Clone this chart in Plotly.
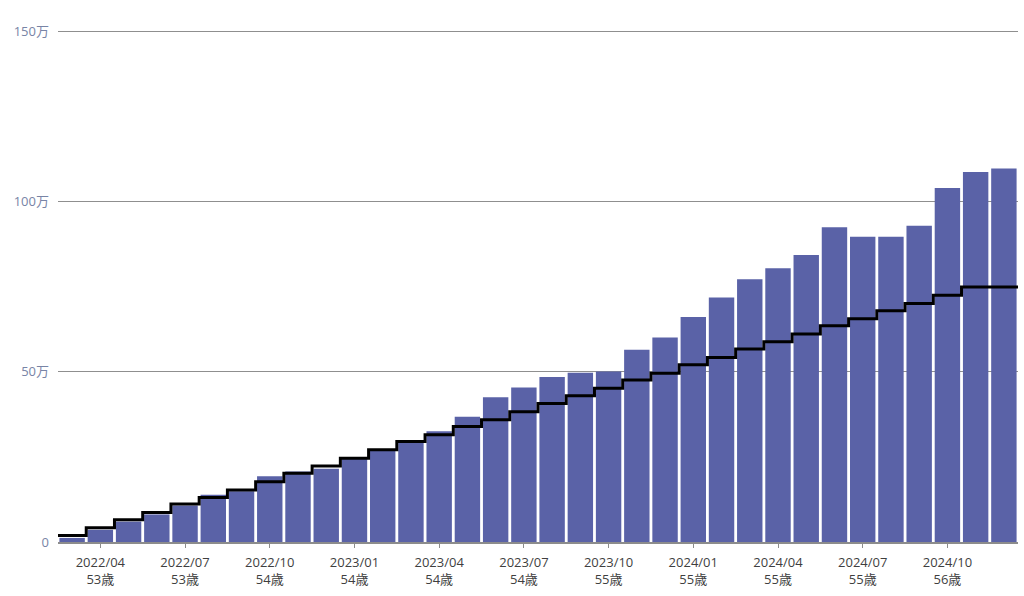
import plotly.graph_objects as go

# Monthly values (万円), 2022/03 .. 2024/12
months = ["2022/03", "2022/04", "2022/05", "2022/06", "2022/07", "2022/08", "2022/09",
          "2022/10", "2022/11", "2022/12", "2023/01", "2023/02", "2023/03", "2023/04",
          "2023/05", "2023/06", "2023/07", "2023/08", "2023/09", "2023/10", "2023/11",
          "2023/12", "2024/01", "2024/02", "2024/03", "2024/04", "2024/05", "2024/06",
          "2024/07", "2024/08", "2024/09", "2024/10", "2024/11", "2024/12"]

valuation = [1.2, 3.6, 6.0, 8.1, 10.7, 13.9, 14.9, 19.3, 20.7, 21.5, 24.4, 27.3,
             29.3, 32.5, 36.8, 42.5, 45.4, 48.5, 49.7, 50.1, 56.5, 60.1, 66.1, 71.8,
             77.2, 80.4, 84.3, 92.5, 89.7, 89.7, 92.9, 104.0, 108.7, 109.7]

invested = [1.9, 4.2, 6.5, 8.7, 11.2, 13.1, 15.3, 17.7, 20.2, 22.3, 24.6, 27.1,
            29.5, 31.5, 33.9, 35.9, 38.3, 40.7, 43.0, 45.2, 47.6, 49.6, 52.1, 54.2,
            56.7, 58.8, 61.1, 63.5, 65.6, 67.9, 70.1, 72.5, 74.9, 74.9]

tick_months = ["2022/04", "2022/07", "2022/10", "2023/01", "2023/04", "2023/07",
               "2023/10", "2024/01", "2024/04", "2024/07", "2024/10"]
tick_ages = ["53歳", "53歳", "54歳", "54歳", "54歳", "54歳",
             "55歳", "55歳", "55歳", "55歳", "56歳"]

y_ticks = [0, 50, 100, 150]
y_ticktext = ["0", "50万", "100万", "150万"]

idx = list(range(len(months)))
tickvals = [months.index(m) for m in tick_months]
ticktext = [f"{m}<br>{a}" for m, a in zip(tick_months, tick_ages)]

# step line spanning full bar widths
line_x = [i - 0.5 for i in range(len(invested) + 1)]
line_y = invested + [invested[-1]]

FONT = "Open Sans, Noto Sans CJK JP, sans-serif"

fig = go.Figure()
fig.add_trace(go.Bar(
    x=idx, y=valuation,
    marker=dict(color="#5a62a7", line=dict(width=0)),
    hoverinfo="skip",
))
fig.add_trace(go.Scatter(
    x=line_x, y=line_y, mode="lines",
    line=dict(color="#000000", width=3, shape="hv"),
    hoverinfo="skip",
))

fig.update_layout(
    width=1024, height=596,
    margin=dict(l=58, r=6, t=28, b=54),
    paper_bgcolor="white", plot_bgcolor="white",
    showlegend=False,
    bargap=0.1,
    font=dict(family=FONT, size=13),
)
fig.update_xaxes(
    range=[-0.5, len(months) - 0.5],
    tickmode="array", tickvals=tickvals, ticktext=ticktext,
    showgrid=False, zeroline=False,
    showline=True, linecolor="#8c8c8c", linewidth=2,
    ticks="outside", ticklen=4, tickcolor="#8c8c8c", tickwidth=1,
    tickfont=dict(color="#3f3f3f", size=13, family=FONT),
    ticklabelstandoff=3,
)
fig.update_yaxes(
    range=[0, 151],
    tickmode="array", tickvals=y_ticks, ticktext=y_ticktext,
    showgrid=True, gridcolor="#8f8f8f", gridwidth=1,
    zeroline=False, showline=False, ticks="",
    tickfont=dict(color="#7884a6", size=13, family=FONT),
    ticklabelstandoff=8,
)

fig.write_html("out.html")
